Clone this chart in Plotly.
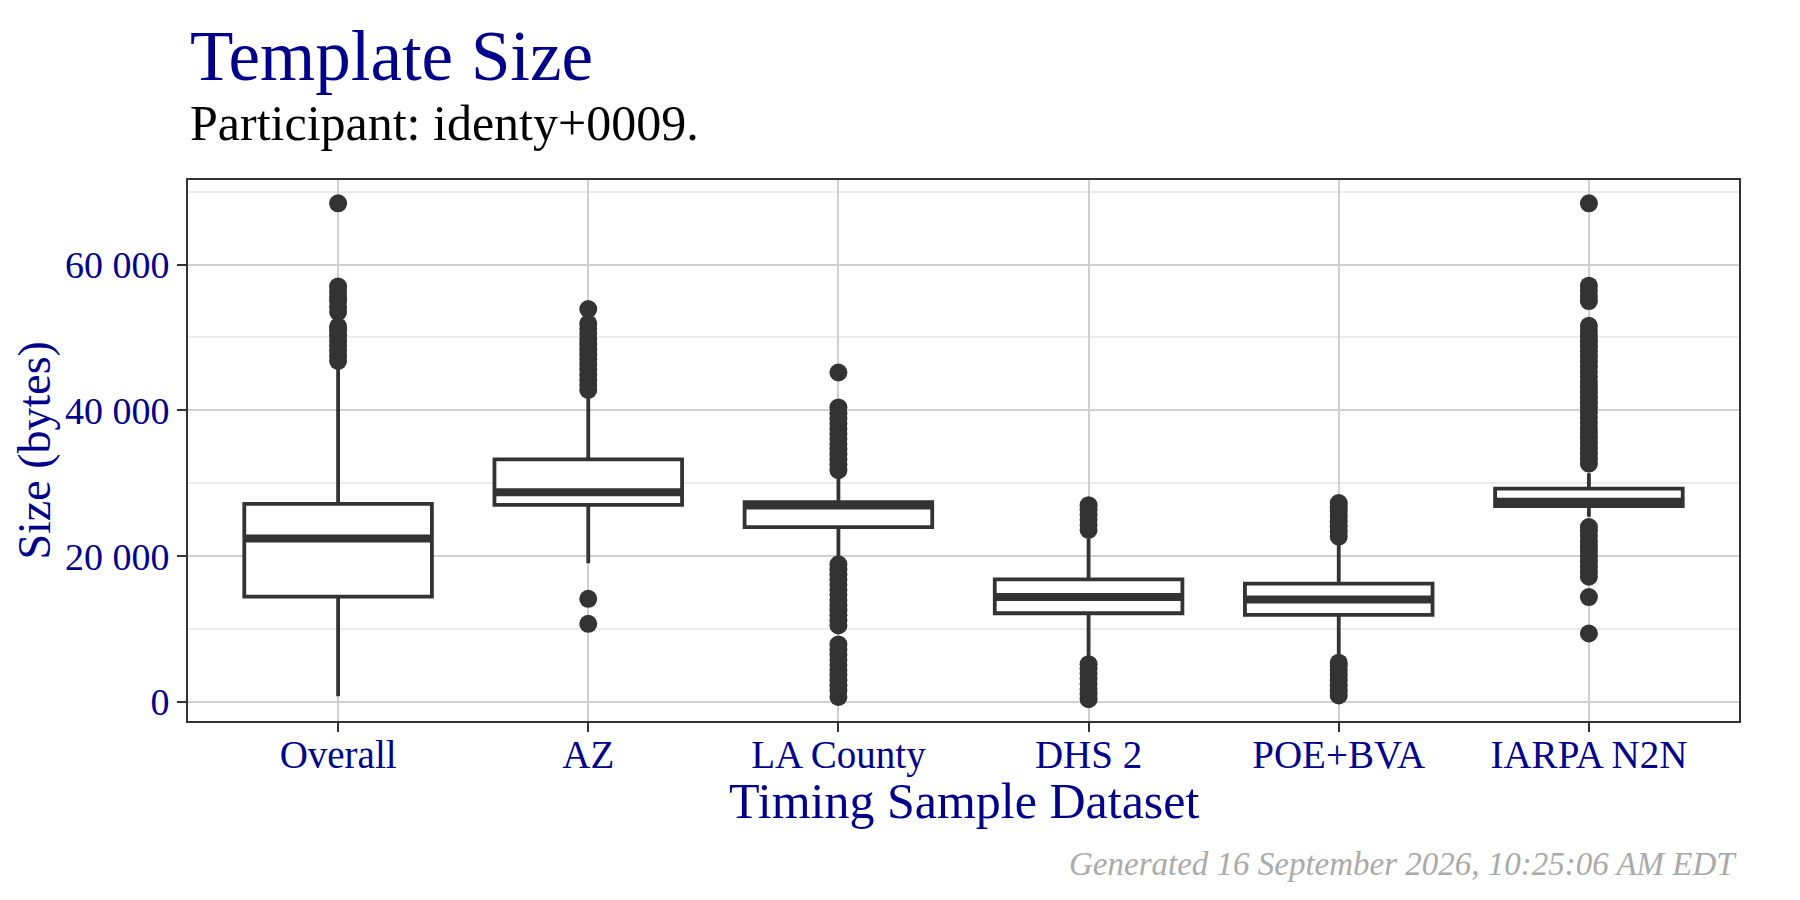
"""
Template size box plots per timing sample dataset (ggplot-style look).
"""

import plotly.graph_objects as go

# ── Data ──────────────────────────────────────────────────────────────────────

CATEGORIES = ["Overall", "AZ", "LA County", "DHS 2", "POE+BVA", "IARPA N2N"]

Q1 = [14460, 27030, 23990, 12180, 11950, 26880]
MEDIAN = [22430, 28770, 26970, 14390, 14070, 27480]
Q3 = [27190, 33290, 27430, 16830, 16230, 29270]
LOWER_WHISKER = [800, 19040, 19600, 6110, 6570, 25410]
UPPER_WHISKER = [46200, 42600, 31600, 22440, 21750, 31380]

OUTLIERS = {
    "Overall": [46800, 47500, 48200, 48900, 49600, 50300, 51000, 51500,
                53500, 54200, 55000, 55600, 56300, 57000, 68400],
    "AZ": [10730, 14150,
           42800, 43500, 44200, 44900, 45600, 46300, 47000, 47700, 48400,
           49100, 49800, 50500, 51200, 51900, 53900],
    "LA County": [700, 1600, 2300, 3000, 3700, 4400, 5100, 5800, 6500, 7200,
                  7900, 10500, 11200, 11900, 12600, 13300, 14000, 14700,
                  15400, 16100, 16800, 17500, 18200, 18900,
                  31800, 32600, 33300, 34000, 34700, 35400, 36100, 36800,
                  37500, 38200, 38900, 39600, 40400, 45200],
    "DHS 2": [400, 1100, 1800, 2500, 3200, 3900, 4600, 5200,
              23600, 24300, 25000, 25700, 26400, 27000],
    "POE+BVA": [900, 1600, 2300, 3000, 3700, 4400, 5000, 5400,
                22700, 23400, 24100, 24800, 25500, 26200, 26800, 27300],
    "IARPA N2N": [9400, 14400, 17200, 17900, 18600, 19300, 20000, 20700,
                  21400, 22100, 22800, 23500, 24000,
                  32700, 33400, 34100, 34800, 35500, 36200, 36900, 37600,
                  38300, 39000, 39700, 40400, 41100, 41800, 42500, 43200,
                  43900, 44600, 45300, 46000, 46700, 47400, 48100, 48800,
                  49500, 50200, 50900, 51600, 55000, 55700, 56400, 57100,
                  68400],
}

Y_TICKVALS = [0, 20000, 40000, 60000]
Y_TICKTEXT = ["0", "20 000", "40 000", "60 000"]

TITLE = "Template Size"
SUBTITLE = "Participant: identy+0009."
X_TITLE = "Timing Sample Dataset"
Y_TITLE = "Size (bytes)"
CAPTION = "Generated 16 September 2026, 10:25:06 AM EDT"

# ── Style ─────────────────────────────────────────────────────────────────────

FONT = "Liberation Serif"
BLUE = "#00008b"
INK = "#333333"
GRID_MAJOR = "#d0d0d0"
GRID_MINOR = "#ebebeb"

# page has an 8px body margin, so the figure is a bit smaller than the window
OFF = 8
W, H = 1800 - 2 * OFF, 900 - 2 * OFF
PANEL = dict(left=188, right=1739, top=180, bottom=721)  # page pixels
M_L = PANEL["left"] - OFF
M_T = PANEL["top"] - OFF
M_R = W - (PANEL["right"] - OFF)
M_B = H - (PANEL["bottom"] - OFF)
PLOT_H = H - M_T - M_B
PLOT_W = W - M_L - M_R


def py(px):
    """page pixel row -> paper y"""
    return (PANEL["bottom"] - px) / PLOT_H


def px_(x):
    """page pixel column -> paper x"""
    return (x - PANEL["left"]) / PLOT_W


fig = go.Figure()

# boxes
fig.add_trace(go.Box(
    x=CATEGORIES, q1=Q1, median=MEDIAN, q3=Q3,
    lowerfence=LOWER_WHISKER, upperfence=UPPER_WHISKER,
    boxpoints=False, width=0.75, whiskerwidth=0,
    fillcolor="white", line=dict(color=INK, width=3.8),
    showlegend=False, hoverinfo="skip",
))

# thick median bar (ggplot fatten)
fig.add_trace(go.Box(
    x=CATEGORIES, q1=MEDIAN, median=MEDIAN, q3=MEDIAN,
    lowerfence=MEDIAN, upperfence=MEDIAN,
    boxpoints=False, width=0.75, whiskerwidth=0,
    fillcolor=INK, line=dict(color=INK, width=8),
    showlegend=False, hoverinfo="skip",
))

# outliers
for cat in CATEGORIES:
    vals = OUTLIERS[cat]
    fig.add_trace(go.Scatter(
        x=[cat] * len(vals), y=vals, mode="markers",
        marker=dict(size=18, color=INK, line=dict(width=0)),
        showlegend=False, hoverinfo="skip",
    ))

# ── Text ──────────────────────────────────────────────────────────────────────

annots = [
    dict(text=TITLE, x=0, y=py(56), xanchor="left", yanchor="middle",
         font=dict(family=FONT, size=71, color=BLUE)),
    dict(text=SUBTITLE, x=0, y=py(123), xanchor="left", yanchor="middle",
         font=dict(family=FONT, size=50, color="black")),
    dict(text=X_TITLE, x=0.5, y=py(801), xanchor="center", yanchor="middle",
         font=dict(family=FONT, size=50, color=BLUE)),
    dict(text=Y_TITLE, x=px_(34), y=0.5, xanchor="center", yanchor="middle",
         textangle=-90, font=dict(family=FONT, size=46, color=BLUE)),
    dict(text=CAPTION, x=1, y=py(864), xanchor="right", yanchor="middle",
         font=dict(family=FONT, size=33, color="#aaaaaa", style="italic")),
]
for a in annots:
    fig.add_annotation(xref="paper", yref="paper", showarrow=False, **a)

# ── Layout ────────────────────────────────────────────────────────────────────

fig.update_layout(
    width=W, height=H,
    margin=dict(l=M_L, r=M_R, t=M_T, b=M_B, autoexpand=False),
    paper_bgcolor="white", plot_bgcolor="white",
    boxmode="overlay",
    xaxis=dict(
        type="category", categoryorder="array", categoryarray=CATEGORIES,
        range=[-0.6, 5.6],
        showgrid=True, gridcolor=GRID_MAJOR, gridwidth=2,
        showline=True, mirror=True, linecolor=INK, linewidth=2,
        ticks="outside", ticklen=9, tickwidth=2, tickcolor=INK,
        tickfont=dict(family=FONT, size=39, color=BLUE),
        ticklabelstandoff=-11,
        zeroline=False,
    ),
    yaxis=dict(
        range=[-2600, 71600],
        tickmode="array", tickvals=Y_TICKVALS, ticktext=Y_TICKTEXT,
        showgrid=True, gridcolor=GRID_MAJOR, gridwidth=2,
        minor=dict(dtick=10000, tick0=0, showgrid=True,
                   gridcolor=GRID_MINOR, gridwidth=1.5),
        showline=True, mirror=True, linecolor=INK, linewidth=2,
        ticks="outside", ticklen=9, tickwidth=2, tickcolor=INK,
        tickfont=dict(family=FONT, size=38, color=BLUE),
        zeroline=False,
    ),
)

fig.write_html("out.html")
